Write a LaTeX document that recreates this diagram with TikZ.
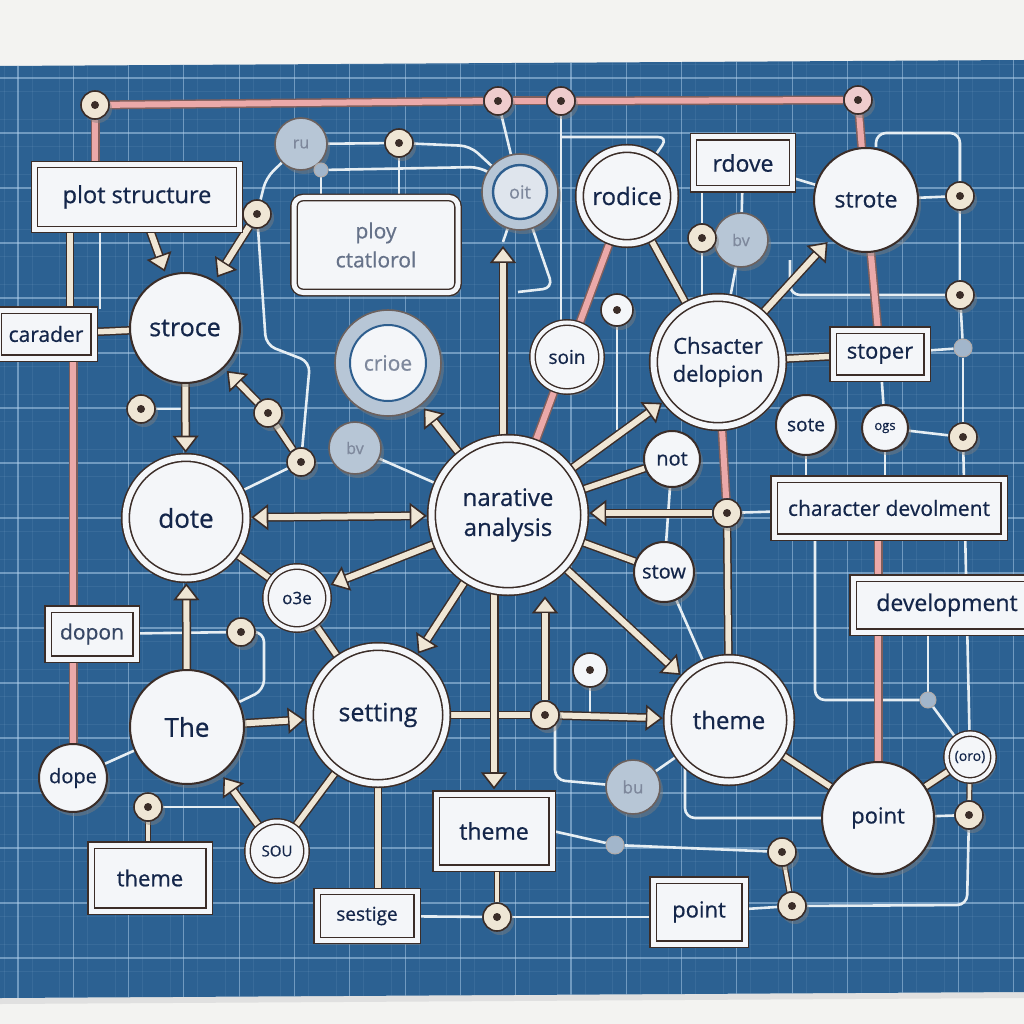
\documentclass[tikz,border=0pt]{standalone}
\usepackage{fontspec}
\setmainfont{Open Sans}[FakeBold=0.7]
\usetikzlibrary{arrows.meta,shadows,calc}
\pgfdeclarelayer{gridl}
\pgfdeclarelayer{conn}
\pgfsetlayers{gridl,conn,main}
\definecolor{board}{HTML}{2C6192}
\definecolor{gridc}{HTML}{B5D3EE}
\definecolor{edge}{HTML}{3B2D28}
\definecolor{nodew}{HTML}{F4F6F9}
\definecolor{ink}{HTML}{14264A}
\definecolor{beige}{HTML}{EFE6D5}
\definecolor{pinkc}{HTML}{EBA9A9}
\definecolor{grayc}{HTML}{B7C6D6}
\definecolor{wline}{HTML}{E6EEF3}
\definecolor{ringblue}{HTML}{2E5E8E}
\definecolor{paper}{HTML}{F3F3F1}
\newcommand\fsz[2]{\fontsize{#1}{#2}\selectfont}
\begin{document}
\begin{tikzpicture}[x=1pt,y=-1pt,
  sh/.style={drop shadow={opacity=0.45,shadow xshift=3pt,shadow yshift=-4pt}},
  plainc/.style={circle,draw=edge,line width=2pt,fill=nodew,text=ink,inner sep=0pt,sh},
  ringc/.style={circle,draw=edge,line width=1.6pt,double=nodew,double distance=6pt,fill=nodew,text=ink,inner sep=0pt,sh},
  ringsm/.style={circle,draw=edge,line width=1.4pt,double=nodew,double distance=4pt,fill=nodew,text=ink,inner sep=0pt,sh},
  grayn/.style={circle,draw=edge!75,line width=1.6pt,fill=grayc,text=ink!55,inner sep=0pt,sh},
  boxn/.style={rectangle,draw=edge,line width=1.4pt,double=nodew,double distance=5pt,fill=nodew,text=ink,inner sep=0pt,sh},
  dotn/.style={circle,draw=edge,line width=1.6pt,fill=beige,minimum size=28pt,inner sep=0pt,sh,path picture={\fill[edge] (path picture bounding box.center) circle (4pt);}},
  blob/.style={circle,draw=edge!40,line width=1pt,fill=grayc!85!ringblue,inner sep=0pt},
  arr/.style={draw=edge,line width=9pt,shorten >=4pt,-{Triangle[length=17pt,width=26pt,fill=beige,line width=1.6pt]},postaction={draw=beige,line width=6pt,-,shorten >=21pt}},
  darr/.style={draw=edge,line width=9pt,shorten >=4pt,shorten <=4pt,{Triangle[length=17pt,width=26pt,fill=beige,line width=1.6pt]}-{Triangle[length=17pt,width=26pt,fill=beige,line width=1.6pt]},postaction={draw=beige,line width=6pt,-,shorten >=21pt,shorten <=21pt}},
  bl/.style={draw=edge,line width=8.5pt,postaction={draw=beige,line width=5.5pt}},
  blt/.style={draw=edge,line width=6pt,postaction={draw=beige,line width=3.6pt}},
  pk/.style={draw=edge!60!pinkc,line width=9pt,postaction={draw=pinkc,line width=6pt}},
  wl/.style={draw=wline,line width=2.6pt,rounded corners=10pt}
]
\useasboundingbox (0,0) rectangle (1024,1024);
\begin{pgfonlayer}{gridl}
\fill[paper] (0,0) rectangle (1024,1024);
\fill[black!12] (0,998) -- (1024,992) -- (1024,998) -- (0,1004) -- cycle;
\fill[board] (0,66) -- (1024,60) -- (1024,992) -- (0,998) -- cycle;
\begin{scope}
\clip (0,66) -- (1024,60) -- (1024,992) -- (0,998) -- cycle;
\foreach \k in {0,...,37} {\draw[gridc,opacity=0.09,line width=0.6pt] (18+27.65*\k-13.8,40) -- (18+27.65*\k-13.8,1010);}
\foreach \k in {0,...,35} {\draw[gridc,opacity=0.09,line width=0.6pt] (0,78+27.5*\k-13.75) -- (1024,78+27.5*\k-13.75);}
\foreach \k in {0,...,18} {\draw[gridc,opacity=0.5,line width=1.1pt] (18+55.3*\k,40) -- (18+55.3*\k,1010);}
\foreach \k in {-1,...,17} {\draw[gridc,opacity=0.5,line width=1.1pt] (0,78+55*\k) -- (1024,78+55*\k);}
\end{scope}
\end{pgfonlayer}

% helper coordinates
\coordinate (x70) at (70,0);
\coordinate (x100) at (100,0);
\coordinate (x815) at (815,0);
\coordinate (y133) at (0,133);
\coordinate (y137) at (0,137);
\coordinate (ah1) at (503,242);

% ---------- boxes ----------
\node[boxn,minimum width=205pt,minimum height=65pt,font=\fsz{23.5}{27}] (plotbox) at (137,197) {plot structure};
\node[boxn,minimum width=96pt,minimum height=48pt,font=\fsz{21}{25}] (carader) at (46,334) {carader};
\node[boxn,rounded corners=9pt,minimum width=164pt,minimum height=95pt,font=\fsz{21}{29},text=ink!65,align=center] (ploy) at (376,245) {ploy\\ctatlorol};
\node[boxn,minimum width=99pt,minimum height=52pt,font=\fsz{23}{26}] (rdove) at (743,163) {rdove};
\node[boxn,minimum width=94pt,minimum height=48pt,font=\fsz{22}{25}] (stoper) at (880,354) {stoper};
\node[boxn,minimum width=230pt,minimum height=58pt,font=\fsz{21}{24}] (chardevbox) at (889,508) {character devolment};
\node[boxn,minimum width=188pt,minimum height=54pt,font=\fsz{23}{26}] (devbox) at (947,605) {development};
\node[boxn,minimum width=88pt,minimum height=50pt,font=\fsz{21}{24},text=ink!85] (dopon) at (92,634) {dopon};
\node[boxn,minimum width=118pt,minimum height=66pt,font=\fsz{22}{25}] (themeb1) at (150,878) {theme};
\node[boxn,minimum width=116pt,minimum height=74pt,font=\fsz{23}{26}] (themeb2) at (494,831) {theme};
\node[boxn,minimum width=100pt,minimum height=49pt,font=\fsz{19}{22}] (sestige) at (367,916) {sestige};
\node[boxn,minimum width=92pt,minimum height=64pt,font=\fsz{22}{25}] (pointb) at (699,912) {point};

% ---------- circles ----------
\node[ringc,minimum size=95pt,font=\fsz{24}{27}] (rodice) at (627,196) {rodice};
\node[plainc,minimum size=104pt,font=\fsz{23}{26}] (strote) at (866,200) {strote};
\node[plainc,minimum size=110pt,font=\fsz{25}{28}] (stroce) at (185,328) {stroce};
\node[ringc,minimum size=129pt,font=\fsz{22}{28},align=center] (chardev) at (718,362) {Chsacter\\delopion};
\node[ringc,minimum size=153pt,font=\fsz{24}{30},align=center] (narr) at (508,515) {narative\\analysis};
\node[ringc,minimum size=121pt,font=\fsz{26}{28}] (dote) at (186,518) {dote};
\node[plainc,minimum size=114pt,font=\fsz{26}{28}] (The) at (187,727) {The};
\node[ringc,minimum size=137pt,font=\fsz{25}{28}] (setting) at (378,715) {setting};
\node[ringc,minimum size=123pt,font=\fsz{24}{27}] (theme) at (729,720) {theme};
\node[plainc,minimum size=112pt,font=\fsz{22}{25}] (point) at (878,818) {point};
\node[ringsm,minimum size=69pt,font=\fsz{19}{22}] (soin) at (567,357) {soin};
\node[ringsm,minimum size=63pt,font=\fsz{17}{20}] (o3e) at (297,598) {o3e};
\node[ringsm,minimum size=59pt,font=\fsz{15}{18}] (sou) at (277,851) {SOU};
\node[ringsm,minimum size=47pt,font=\fsz{14}{16}] (oro) at (970,757) {(oro)};
\node[plainc,minimum size=56pt,font=\fsz{20}{22}] (not) at (672,459) {not};
\node[plainc,minimum size=60pt,font=\fsz{20}{22}] (stow) at (664,572) {stow};
\node[plainc,minimum size=60pt,font=\fsz{19}{21}] (sote) at (806,425) {sote};
\node[plainc,minimum size=46pt,font=\fsz{13}{16}] (ogs) at (885,428) {ogs};
\node[plainc,minimum size=68pt,font=\fsz{20}{22}] (dope) at (73,778) {dope};

% ---------- gray circles ----------
\node[grayn,minimum size=52pt,font=\fsz{16}{18}] (ru) at (301,144) {ru};
\node[grayn,minimum size=76pt,font=\fsz{18}{20},path picture={\draw[ringblue,line width=2.4pt,fill=nodew!65!grayc] (path picture bounding box.center) circle (27pt);}] (oit) at (520,192) {oit};
\node[grayn,minimum size=106pt,font=\fsz{21}{24},path picture={\draw[ringblue,line width=2pt,fill=nodew] (path picture bounding box.center) circle (38pt);}] (crioe) at (388,363) {crioe};
\node[grayn,minimum size=52pt,font=\fsz{16}{18}] (bv1) at (355,448) {bv};
\node[grayn,minimum size=54pt,font=\fsz{16}{18}] (bv2) at (741,240) {bv};
\node[grayn,minimum size=54pt,font=\fsz{17}{19}] (bu) at (633,787) {bu};

% ---------- junction dots ----------
\node[dotn] (t1) at (95,105) {};
\node[dotn,fill=pinkc!55!nodew] (t2) at (498,101) {};
\node[dotn,fill=pinkc!55!nodew] (t3) at (561,101) {};
\node[dotn,fill=pinkc!55!nodew] (t4) at (858,100) {};
\node[dotn] (d1) at (399,143) {};
\node[dotn] (d2) at (257,214) {};
\node[dotn] (d3) at (141,409) {};
\node[dotn] (d4) at (268,413) {};
\node[dotn] (d5) at (301,462) {};
\node[dotn] (d6) at (241,632) {};
\node[dotn] (d7) at (148,807) {};
\node[dotn] (d8) at (497,917) {};
\node[dotn] (d9) at (545,715) {};
\node[dotn] (d10) at (727,513) {};
\node[dotn] (d11) at (702,238) {};
\node[dotn] (d12) at (960,196) {};
\node[dotn] (d13) at (960,295) {};
\node[dotn] (d14) at (963,437) {};
\node[dotn] (d15) at (969,815) {};
\node[dotn] (d16) at (782,852) {};
\node[dotn] (d17) at (792,906) {};
\node[dotn,fill=nodew,minimum size=32pt] (w1) at (617,310) {};
\node[dotn,fill=nodew,minimum size=34pt] (w2) at (590,670) {};
\node[blob,minimum size=14pt] (g1) at (321,170) {};
\node[blob,minimum size=18pt] (g2) at (963,348) {};
\node[blob,minimum size=16pt] (g3) at (928,700) {};
\node[blob,minimum size=18pt] (g4) at (615,845) {};

% ---------- connectors ----------
\begin{pgfonlayer}{conn}
% thin white lines
\draw[wl] (ru) -- (d1);
\draw[wl] (d1) -- (d1 |- ploy.north);
\draw[wl] (d1) -- (470,146) -- (oit);
\draw[wl] (ru) -- (g1);
\draw[wl] (g1) -- (g1 |- ploy.north);
\draw[wl] (g1) -- (480,167) -- (oit);
\draw[wl] (ru) -- (266,178) -- (d2);
\draw[wl] (d2) -- (266,345) -- (310,362) -- (d5);
\draw[wl] (dote) -- (d5);
\draw[wl] (bv1) -- (narr);
\draw[wl] (d3) -- (d3 -| stroce);
\draw[wl] (plotbox.south -| x100) -- (carader.north -| x100);
\draw[wl] (t2) -- (oit);
\draw[wl] (t3) -- (t3 |- soin.north);
\draw[wl] (t3 |- y137) -- (668,137) -- (rodice);
\draw[wl] (oit) -- (553,288) -- (518,292);
\draw[wl] (rdove.south -| d11) -- (d11);
\draw[wl] (d11) -- (d11 |- chardev.north);
\draw[wl] (rdove) -- (bv2);
\draw[wl] (bv2) -- (chardev);
\draw[wl] (rdove) -- (strote);
\draw[wl] ([xshift=10pt]strote.north) |- (d12 |- y133) -- (d12);
\draw[wl] (strote) -- (d12);
\draw[wl] (d12) -- (d13);
\draw[wl] (d13) -- (g2);
\draw[wl] (g2) -- (d14);
\draw[wl] (d14) -- (oro);
\draw[wl] (d13) -- (790,295) -- (790,260);
\draw[wl] (stoper) -- (g2);
\draw[wl] (stoper) -- (ogs);
\draw[wl] (ogs) -- (d14);
\draw[wl] (sote) -- (sote |- chardevbox.north);
\draw[wl] (ogs) -- (ogs |- chardevbox.north);
\draw[wl] (chardevbox) -- (d10);
\draw[wl] (chardevbox.south -| x815) -- (815,700) -- (g3);
\draw[wl] (g3) -- (g3 |- devbox.south);
\draw[wl] (g3) -- (oro);
\draw[wl] (not) -- (stow);
\draw[wl] (stow) -- (theme);
\draw[wl] (w2) -- (w2 |- d9);
\draw[wl] (w1) -- (w1 |- not.north);
\draw[wl] (dopon) -- (d6);
\draw[wl] (d6) -- (264,632) -- (264,690) -- (The);
\draw[wl] (dope) -- (The);
\draw[wl] (d7) -- (d7 -| sou.west);
\draw[wl] (sestige) -- (d8);
\draw[wl] (d8) -- (d8 -| pointb.west);
\draw[wl] (themeb2.east) -- (g4);
\draw[wl] (g4) -- (d16);
\draw[wl] (pointb) -- (d17);
\draw[wl] (d17) -- (967,905) -- (d15);
\draw[wl] (point) -- (d15);
\draw[wl] (theme) -- (bu);
\draw[wl] (bu) -- (555,780) -- (555,718);
\draw[wl] (theme.south west) |- (point.west);
% pink lines
\draw[pk] (t1) -- (t2);
\draw[pk] (t2) -- (t3);
\draw[pk] (t3) -- (t4);
\draw[pk] (t1) -- (t1 |- plotbox.north);
\draw[pk] (carader.south -| dope) -- (dope);
\draw[pk] (t4) -- (strote);
\draw[pk] (strote) -- (stoper);
\draw[pk] (rodice) -- (soin);
\draw[pk] (soin) -- (narr);
\draw[pk] (chardev) -- (d10);
\draw[pk] (chardevbox.south -| point) -- (point);
% beige lines
\draw[bl] (plotbox.south -| x70) -- (carader.north -| x70);
\draw[bl] (carader) -- (stroce);
\draw[bl] (rodice) -- (chardev);
\draw[bl] (d10) -- (theme);
\draw[bl] (narr) -- (not);
\draw[bl] (narr) -- (stow);
\draw[bl] (chardev) -- (stoper);
\draw[bl] (d5) -- (d4);
\draw[bl] (dote) -- (o3e);
\draw[bl] (o3e) -- (setting);
\draw[bl] (sou) -- (setting);
\draw[bl] (setting) -- (d9);
\draw[bl] (setting.south) -- (setting.south |- sestige.north);
\draw[blt] (d7) -- (d7 |- themeb1.north);
\draw[blt] (d8) -- (d8 |- themeb2.south);
\draw[blt] (d16) -- (d17);
\draw[blt] (d15) -- (oro);
\draw[bl] (oro) -- (point);
\draw[bl] (theme) -- (point);
% arrows
\draw[arr] ([xshift=13pt]plotbox.south) -- (stroce);
\draw[arr] (d2) -- (stroce);
\draw[arr] (stroce) -- (dote);
\draw[arr] (d4) -- (stroce);
\draw[darr] (narr) -- (dote);
\draw[arr] (narr) -- (o3e);
\draw[arr] (narr) -- (setting);
\draw[arr] (narr) -- (theme);
\draw[arr] (narr) -- (chardev);
\draw[arr] (narr) -- (crioe);
\draw[arr] (chardev) -- (strote);
\draw[arr] (d10) -- (d10 -| narr.east);
\draw[arr] (d9) -- (d9 |- narr.south);
\draw[arr] (d9) -- (theme);
\draw[arr] (narr.south -| themeb2.north) -- (themeb2.north);
\draw[arr] (narr.north -| ah1) -- (ah1);
\draw[wl] (ah1) -- (oit);
\draw[arr] (The) -- (dote);
\draw[arr] (The) -- (setting);
\draw[arr] (sou) -- (The);
\end{pgfonlayer}
\end{tikzpicture}
\end{document}
